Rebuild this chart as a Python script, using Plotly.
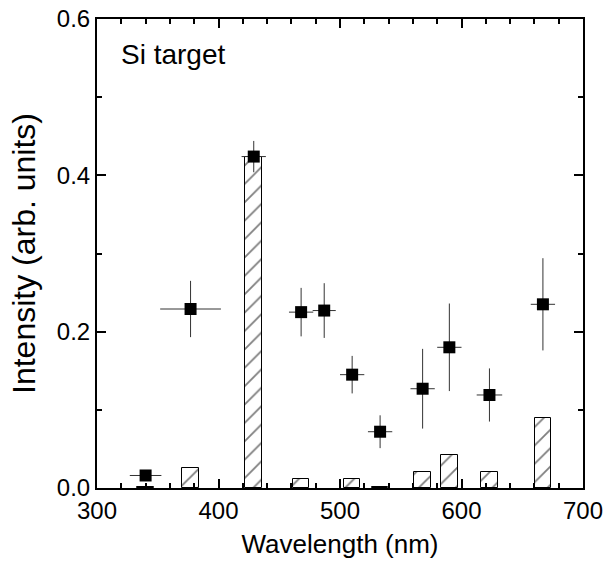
import plotly.graph_objects as go

# Measured points (squares with error bars)
wavelength = [340, 377, 429, 468, 487, 510, 533, 568, 590, 623, 667]
intensity = [0.016, 0.229, 0.424, 0.225, 0.227, 0.145, 0.072, 0.127, 0.180, 0.119, 0.235]
wavelength_err = [13, 25, 10, 10, 9.5, 10, 10, 10, 10, 10.5, 10]
intensity_err = [0.005, 0.036, 0.020, 0.031, 0.035, 0.024, 0.021, 0.051, 0.056, 0.034, 0.059]

# Hatched bars
bar_wavelength = [340, 377, 429, 468, 510, 533, 568, 590, 623, 667]
bar_intensity = [0.0015, 0.025, 0.424, 0.012, 0.012, 0.001, 0.021, 0.042, 0.020, 0.090]
bar_width_nm = 13.7

x_ticks = [300, 400, 500, 600, 700]
y_ticks = [0.0, 0.2, 0.4, 0.6]

FONT = "Liberation Sans, Arial, Helvetica, sans-serif"

fig = go.Figure()

fig.add_trace(go.Bar(
    x=bar_wavelength,
    y=bar_intensity,
    width=[bar_width_nm] * len(bar_wavelength),
    marker=dict(
        color="white",
        line=dict(color="black", width=1),
        pattern=dict(shape="/", fgcolor="black", bgcolor="white", size=13, solidity=0.14),
    ),
    showlegend=False,
))

fig.add_trace(go.Scatter(
    x=wavelength,
    y=intensity,
    mode="markers",
    marker=dict(symbol="square", size=12, color="black"),
    error_x=dict(type="data", array=wavelength_err, color="#333333", thickness=1, width=0),
    error_y=dict(type="data", array=intensity_err, color="#333333", thickness=1, width=0),
    showlegend=False,
))

axis_common = dict(
    showline=True, linecolor="black", linewidth=2, mirror="allticks",
    ticks="inside", ticklen=9, tickwidth=1.5, tickcolor="black",
    showgrid=False, zeroline=False, automargin=False, ticklabeloverflow="allow",
    tickfont=dict(family=FONT, size=24, color="black"),
)

fig.update_xaxes(
    range=[300, 700], tickvals=x_ticks,
    minor=dict(dtick=20, ticks="inside", ticklen=5, tickwidth=1.5, tickcolor="black", showgrid=False),
    title=dict(text="Wavelength (nm)", font=dict(family=FONT, size=26, color="black"), standoff=12),
    **axis_common,
)
fig.update_yaxes(
    range=[0, 0.6], tickvals=y_ticks, tickformat=".1f",
    minor=dict(dtick=0.1, ticks="inside", ticklen=5, tickwidth=1.5, tickcolor="black", showgrid=False),
    title=dict(text="Intensity (arb. units)", font=dict(family=FONT, size=32, color="black"), standoff=12),
    **axis_common,
)

fig.add_annotation(
    text="Si target", xref="paper", yref="paper", x=0.045, y=0.962,
    xanchor="left", yanchor="top", showarrow=False,
    font=dict(family=FONT, size=28, color="black"),
)

fig.update_layout(
    width=605, height=568, autosize=False,
    margin=dict(l=97, r=22, t=19, b=80),
    plot_bgcolor="white", paper_bgcolor="white",
    bargap=0,
)

# remove the page's default body margin so the figure fills the window exactly
fig.write_html(
    "out.html",
    config={"displayModeBar": False},
    post_script="document.body.style.margin='0';document.body.style.overflow='hidden';",
)
